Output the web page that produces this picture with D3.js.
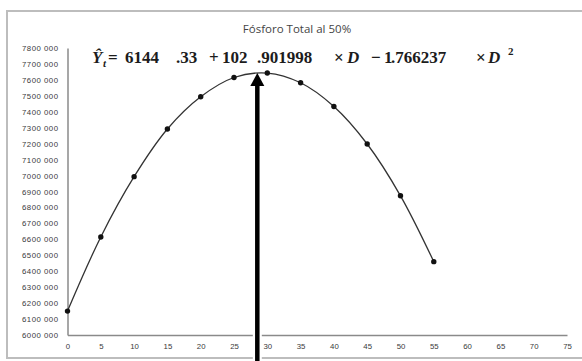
<!DOCTYPE html>
<html>
<head>
<meta charset="utf-8">
<script src="https://cdn.jsdelivr.net/npm/d3@7"></script>
<style>
  body { margin: 0; background: #fff; }
  svg { display: block; }
</style>
</head>
<body>
<div id="display"></div>
<script>
// dosis (D) y rendimiento
const doses = [0, 5, 10, 15, 20, 25, 30, 35, 40, 45, 50, 55];
const yields = [6150000, 6615000, 6993000, 7292000, 7494000, 7615000,
  7643000, 7582000, 7433000, 7198000, 6873000, 6460000];
const xTicks = [0, 5, 10, 15, 20, 25, 30, 35, 40, 45, 50, 55, 60, 65, 70, 75];
const yTicks = [6000000, 6100000, 6200000, 6300000, 6400000, 6500000,
  6600000, 6700000, 6800000, 6900000, 7000000, 7100000, 7200000, 7300000,
  7400000, 7500000, 7600000, 7700000, 7800000];
const titleText = 'Fósforo Total al 50%';
const optimumD = 28.5;
const optimumY = 7643000;

const width = 582;
const height = 361;
const plot = {left: 67.5, right: 567, top: 48, bottom: 335};

const svg = d3.select('#display').append('svg')
    .attr('width', width)
    .attr('height', height);

// marco del grafico
svg.append('rect')
    .attr('x', 7).attr('y', 11)
    .attr('width', 600).attr('height', 347)
    .attr('fill', 'none')
    .attr('stroke', '#bdbdbd')
    .attr('stroke-width', 2);

const x = d3.scaleLinear().domain([0, 75]).range([plot.left, plot.right]);
const y = d3.scaleLinear().domain([6000000, 7800000])
    .range([plot.bottom, plot.top]);

const fmt = (v) => Math.floor(v / 1000) + ' ' +
    String(v % 1000).padStart(3, '0');

const yAxis = svg.append('g')
    .attr('transform', 'translate(' + plot.left + ',0)')
    .call(d3.axisLeft(y).tickValues(yTicks).tickFormat(fmt)
        .tickSize(0).tickPadding(9));
yAxis.select('.domain').attr('stroke', '#8a8a8a').attr('stroke-width', 1.5);
yAxis.selectAll('text')
    .attr('fill', '#3a3a3a')
    .style('font-family', '\'Liberation Sans\', Arial, sans-serif')
    .style('font-size', '7.8px')
    .style('letter-spacing', '0.5px');

const xAxis = svg.append('g')
    .attr('transform', 'translate(0,' + plot.bottom + ')')
    .call(d3.axisBottom(x).tickValues(xTicks).tickSize(0).tickPadding(8));
xAxis.select('.domain').attr('stroke', '#8a8a8a').attr('stroke-width', 1.5);
xAxis.selectAll('text')
    .attr('fill', '#3a3a3a')
    .style('font-family', '\'Liberation Sans\', Arial, sans-serif')
    .style('font-size', '7.8px');

// titulo
svg.append('text')
    .attr('x', 297).attr('y', 33)
    .attr('text-anchor', 'middle')
    .attr('fill', '#444')
    .style('font-family', '\'Open Sans\', sans-serif')
    .style('font-size', '11.5px')
    .text(titleText);

// curva suavizada
const pts = doses.map((d, i) => ({d: d, v: yields[i]}));
svg.append('path')
    .datum(pts)
    .attr('fill', 'none')
    .attr('stroke', '#333')
    .attr('stroke-width', 1.3)
    .attr('d', d3.line()
        .x((p) => x(p.d))
        .y((p) => y(p.v))
        .curve(d3.curveCatmullRom));

svg.append('g')
    .selectAll('circle')
    .data(pts)
    .enter()
    .append('circle')
    .attr('cx', (p) => x(p.d))
    .attr('cy', (p) => y(p.v))
    .attr('r', 2.7)
    .attr('fill', '#111');

// flecha del optimo
const ax = x(optimumD);
const ay = y(optimumY);
const arrow = svg.append('g');
arrow.append('line')
    .attr('x1', ax).attr('x2', ax)
    .attr('y1', ay + 10).attr('y2', height)
    .attr('stroke', '#fff').attr('stroke-width', 9);
arrow.append('line')
    .attr('x1', ax).attr('x2', ax)
    .attr('y1', ay + 10).attr('y2', height)
    .attr('stroke', '#000').attr('stroke-width', 4.5);
arrow.append('path')
    .attr('d', 'M' + ax + ',' + ay + 'L' + (ax + 7) + ',' + (ay + 13) +
        'L' + (ax - 7) + ',' + (ay + 13) + 'Z')
    .attr('fill', '#000');

// ecuacion
const eq = svg.append('g')
    .style('font-family', '\'Liberation Serif\', \'DejaVu Serif\', serif')
    .attr('fill', '#1c1c1c');
const base = 63;
const parts = [
  {t: 'Ŷ', x: 92, y: base, s: 17, i: true},
  {t: 't', x: 103, y: base + 4, s: 11, i: true},
  {t: '=', x: 108, y: base, s: 17},
  {t: '6144', x: 125, y: base, s: 17},
  {t: '.33', x: 176, y: base, s: 17},
  {t: '+', x: 209, y: base, s: 17},
  {t: '102', x: 222, y: base, s: 17},
  {t: '.901998', x: 257, y: base, s: 17},
  {t: '×', x: 334, y: base, s: 17},
  {t: 'D', x: 347, y: base, s: 17, i: true},
  {t: '−', x: 371, y: base, s: 17},
  {t: '1', x: 384, y: base, s: 17},
  {t: '.766237', x: 391, y: base, s: 17},
  {t: '×', x: 476, y: base, s: 17},
  {t: 'D', x: 488, y: base, s: 17, i: true},
  {t: '2', x: 508, y: base - 8, s: 11},
];
eq.selectAll('text')
    .data(parts)
    .enter()
    .append('text')
    .attr('x', (p) => p.x)
    .attr('y', (p) => p.y)
    .style('font-size', (p) => p.s + 'px')
    .style('font-style', (p) => p.i ? 'italic' : 'normal')
    .style('font-weight', 'bold')
    .text((p) => p.t);
</script>
</body>
</html>
